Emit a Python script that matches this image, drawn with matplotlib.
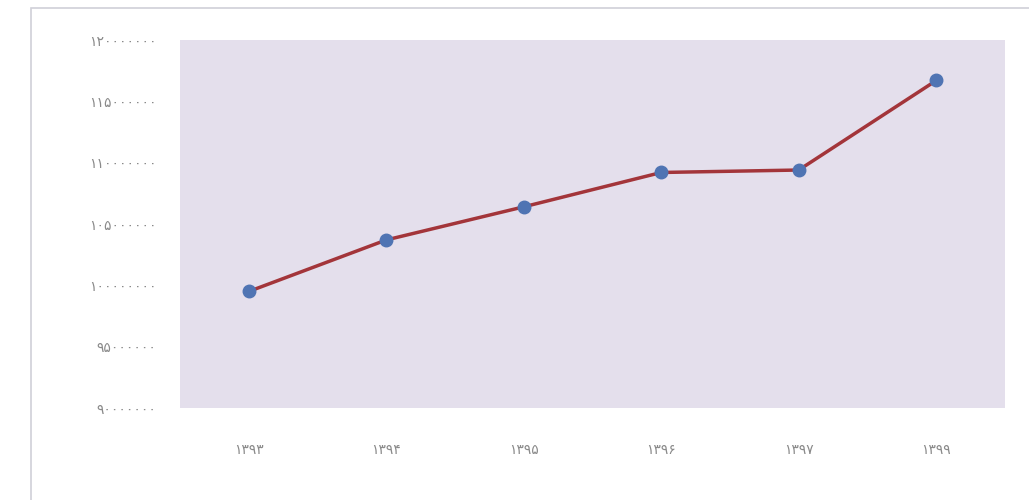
import matplotlib.pyplot as plt
from matplotlib.patches import Rectangle

years = ["۱۳۹۳", "۱۳۹۴", "۱۳۹۵", "۱۳۹۶", "۱۳۹۷", "۱۳۹۹"]
values = [99.5e6, 103.7e6, 106.4e6, 109.2e6, 109.4e6, 116.7e6]
yticks = [90e6, 95e6, 100e6, 105e6, 110e6, 115e6, 120e6]
ylabels = ["۹۰۰۰۰۰۰۰", "۹۵۰۰۰۰۰۰", "۱۰۰۰۰۰۰۰۰", "۱۰۵۰۰۰۰۰۰",
           "۱۱۰۰۰۰۰۰۰", "۱۱۵۰۰۰۰۰۰", "۱۲۰۰۰۰۰۰۰"]

plt.rcParams['font.family'] = ['DejaVu Sans']

fig = plt.figure(figsize=(10.29, 5.0), dpi=100)
fig.patches.append(Rectangle((0.03, -0.01), 0.975, 0.995, transform=fig.transFigure,
                             fill=False, edgecolor="#d0d0d8", linewidth=1.2))
ax = fig.add_axes([180/1029, 1 - 408/500, 825/1029, 368/500])
ax.set_facecolor("#e4dfec")

x = range(len(years))
ax.plot(x, values, color="#a3353a", linewidth=2.5, zorder=2)
ax.plot(x, values, "o", color="#4f74b3", markersize=9, zorder=3)

ax.set_xlim(-0.5, len(years) - 0.5)
ax.set_ylim(90e6, 120e6)
ax.set_xticks(list(x))
ax.set_xticklabels(years)
ax.set_yticks(yticks)
ax.set_yticklabels(ylabels)
ax.tick_params(length=0, colors="#8a8a8a", labelsize=10)
ax.tick_params(axis="x", pad=25)
ax.tick_params(axis="y", pad=17)
for s in ax.spines.values():
    s.set_visible(False)

fig.savefig("out.png", dpi=100)
